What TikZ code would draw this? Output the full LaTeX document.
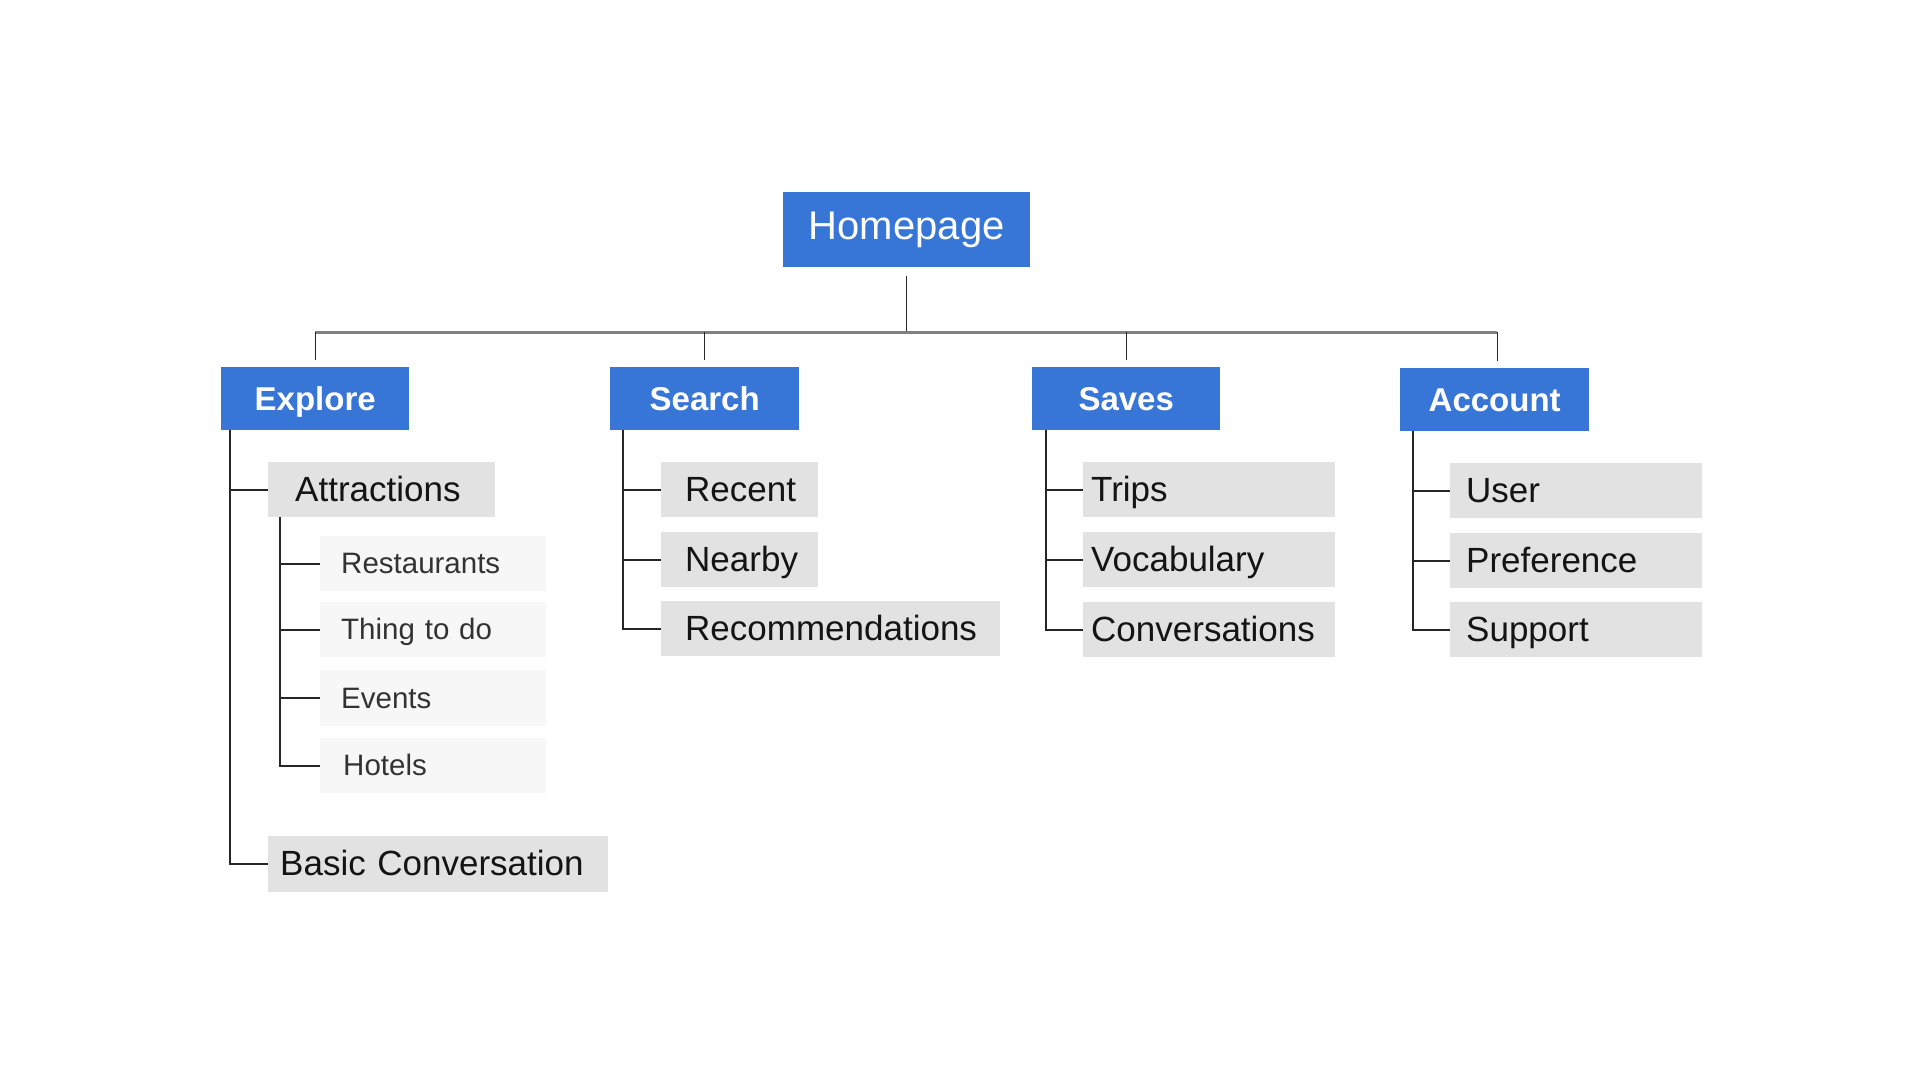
\documentclass[tikz,border=0pt]{standalone}
\usepackage{fontspec}
\setmainfont{Liberation Sans}
\usetikzlibrary{calc}
\definecolor{bluebox}{HTML}{3776D6}
\definecolor{lvtwo}{HTML}{E2E2E2}
\definecolor{lvthree}{HTML}{F7F7F7}
\definecolor{barcol}{HTML}{808080}
\definecolor{txtthree}{HTML}{333333}
\begin{document}
\begin{tikzpicture}[x=1pt,y=-1pt,
 topbox/.style={fill=bluebox, text=white, inner sep=0pt, anchor=north west,
   font=\fontsize{40}{48}\selectfont, text height=28.7pt, text depth=9pt},
 headbox/.style={fill=bluebox, text=white, inner sep=0pt, anchor=north west,
   minimum height=63pt, font=\fontsize{33}{40}\selectfont\bfseries, text height=23.8pt, text depth=1pt},
 midbox/.style={fill=lvtwo, text=black!92, inner sep=0pt, anchor=north west,
   minimum height=55pt, align=left, font=\fontsize{35}{42}\selectfont, text height=25pt, text depth=2pt},
 subbox/.style={fill=lvthree, text=txtthree, inner sep=0pt, anchor=north west,
   minimum height=55pt, text width=226pt, align=left, font=\fontsize{29.5}{35}\selectfont, text height=21.1pt, text depth=1.5pt},
 link/.style={draw=black!85, line width=1.6pt},
 barline/.style={draw=barcol, line width=2.5pt}]
\useasboundingbox[fill=white] (0,0) rectangle (1920,1080);

% top level
\node[topbox, minimum width=247pt, minimum height=75pt] (home) at (783,192) {Homepage};
\node[headbox, minimum width=188pt] (explore) at (221,367) {Explore};
\node[headbox, minimum width=189pt] (search) at (610,367) {Search};
\node[headbox, minimum width=188pt] (saves) at (1032,367) {Saves};
\node[headbox, minimum width=189pt] (account) at (1400,368) {Account};

% Explore
\node[midbox, text width=227pt] (attr) at (268,462) {\hspace*{27pt}Attractions};
\node[subbox] (rest) at (320,536) {\hspace*{21pt}Restaurants};
\node[subbox] (thing) at (320,602) {\hspace*{21pt}Thing to do};
\node[subbox, minimum height=56pt] (events) at (320,670) {\hspace*{21pt}Events};
\node[subbox] (hotels) at (320,738) {\hspace*{23pt}Hotels};
\node[midbox, text width=340pt, minimum height=56pt] (basic) at (268,836) {\hspace*{12pt}Basic Conversation};

% Search
\node[midbox, text width=157pt] (recent) at (661,462) {\hspace*{24pt}Recent};
\node[midbox, text width=157pt] (nearby) at (661,532) {\hspace*{24pt}Nearby};
\node[midbox, text width=339pt] (recomm) at (661,601) {\hspace*{24pt}Recommendations};

% Saves
\node[midbox, text width=252pt] (trips) at (1083,462) {\hspace*{8pt}Trips};
\node[midbox, text width=252pt] (vocab) at (1083,532) {\hspace*{8pt}Vocabulary};
\node[midbox, text width=252pt] (convs) at (1083,602) {\hspace*{8pt}Conversations};

% Account
\node[midbox, text width=252pt] (user) at (1450,463) {\hspace*{16pt}User};
\node[midbox, text width=252pt] (pref) at (1450,533) {\hspace*{16pt}Preference};
\node[midbox, text width=252pt] (support) at (1450,602) {\hspace*{16pt}Support};

% top connectors
\coordinate (hub) at ($(home.south)+(0,65)$);
\draw[link, line width=1.3pt] ($(home.south)+(0,9)$) -- (hub);
\coordinate (ae) at ($(account.north)+(2.5,0)$);
\draw[barline] (explore.north |- hub) -- (ae |- hub);
\foreach \n in {explore.north,search.north,saves.north,ae}
  \draw[link, line width=1.3pt] (\n |- hub) -- ($(\n)+(0,-7)$);

% Explore tree
\coordinate (et) at ($(explore.south west)+(9,0)$);
\draw[link] (et) |- (basic.west);
\draw[link] (attr.west -| et) -- (attr.west);
\coordinate (att) at ($(attr.south west)+(12,0)$);
\draw[link] (att) |- (hotels.west);
\foreach \n in {rest,thing,events}
  \draw[link] (\n.west -| att) -- (\n.west);

% Search tree
\coordinate (st) at ($(search.south west)+(13,0)$);
\draw[link] (st) |- (recomm.west);
\foreach \n in {recent,nearby}
  \draw[link] (\n.west -| st) -- (\n.west);

% Saves tree
\coordinate (svt) at ($(saves.south west)+(14,0)$);
\draw[link] (svt) |- (convs.west);
\foreach \n in {trips,vocab}
  \draw[link] (\n.west -| svt) -- (\n.west);

% Account tree
\coordinate (act) at ($(account.south west)+(13,0)$);
\draw[link] (act) |- (support.west);
\foreach \n in {user,pref}
  \draw[link] (\n.west -| act) -- (\n.west);
\end{tikzpicture}
\end{document}
